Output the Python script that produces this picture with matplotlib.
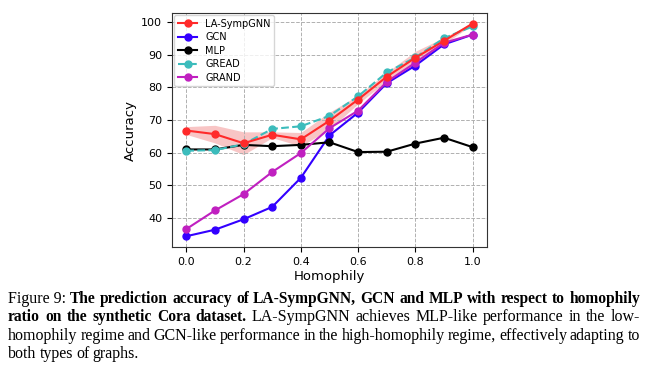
import matplotlib
matplotlib.use('Agg')
import matplotlib.pyplot as plt
import numpy as np

#------------------------------------------------------------------------------
homophily = [0.0, 0.1, 0.2, 0.3, 0.4, 0.5, 0.6, 0.7, 0.8, 0.9, 1.0]
la_symp = [66.8, 65.7, 62.9, 65.5, 64.1, 69.8, 76.3, 83.3, 89.1, 94.3, 99.6]
la_symp_std = [1.2, 2.7, 3.5, 0.9, 2.1, 2.6, 1.3, 1.3, 2.0, 1.0, 0.3]
gcn = [34.4, 36.4, 39.6, 43.4, 52.3, 65.3, 72.3, 81.3, 86.7, 93.2, 96.2]
mlp = [61.0, 61.0, 62.4, 62.0, 62.4, 63.2, 60.2, 60.3, 62.8, 64.6, 61.7]
gread = [60.6, 60.8, 62.6, 67.3, 68.1, 71.3, 77.3, 84.6, 89.2, 95.1, 98.7]
grand = [36.6, 42.3, 47.3, 54.1, 59.9, 67.5, 72.9, 81.7, 87.6, 93.7, 96.2]
#------------------------------------------------------------------------------

fig = plt.figure(figsize=(6.48, 3.69), dpi=100)
ax = fig.add_axes([0.2654, 0.3306, 0.4861, 0.634])

ax.fill_between(homophily, np.array(la_symp) - np.array(la_symp_std),
                np.array(la_symp) + np.array(la_symp_std),
                color='#f08080', alpha=0.45, linewidth=0)
ax.plot(homophily, la_symp, color='#ff2a2a', marker='o', markersize=5,
        linewidth=1.5, label='LA-SympGNN', zorder=5)
ax.plot(homophily, gcn, color='#3300ff', marker='o', markersize=5,
        linewidth=1.5, label='GCN')
ax.plot(homophily, mlp, color='black', marker='o', markersize=5,
        linewidth=1.5, label='MLP')
ax.plot(homophily, gread, color='#3cbcbc', marker='o', markersize=5,
        linewidth=1.5, linestyle='--', label='GREAD')
ax.plot(homophily, grand, color='#c020c0', marker='o', markersize=5,
        linewidth=1.5, label='GRAND')

ax.set_ylim(31.1, 102.8)
ax.set_xticks(np.arange(0, 1.01, 0.2))
ax.set_yticks(np.arange(40, 101, 10))
ax.tick_params(labelsize=8)
ax.set_xlabel('Homophily', fontsize=9.5, labelpad=2)
ax.set_ylabel('Accuracy', fontsize=9.5, labelpad=3)
ax.grid(True, linestyle='--', color='#b0b0b0', linewidth=0.7)
for s in ax.spines.values():
    s.set_color('#333333')
ax.legend(loc='upper left', fontsize=7, framealpha=0.8, handlelength=2.0,
          borderpad=0.4, labelspacing=0.35, borderaxespad=0.2)

#--------------caption (justified, Times-like)---------------------------------
lines = [
    ([('Figure 9:', False), ('The', True), ('prediction', True), ('accuracy', True),
      ('of', True), ('LA-SympGNN,', True), ('GCN', True), ('and', True), ('MLP', True),
      ('with', True), ('respect', True), ('to', True), ('homophily', True)], True),
    ([('ratio', True), ('on', True), ('the', True), ('synthetic', True), ('Cora', True),
      ('dataset.', True), ('LA-SympGNN', False), ('achieves', False),
      ('MLP-like', False), ('performance', False), ('in', False), ('the', False),
      ('low-', False)], True),
    ([('homophily', False), ('regime', False), ('and', False), ('GCN-like', False),
      ('performance', False), ('in', False), ('the', False), ('high-homophily', False),
      ('regime,', False), ('effectively', False), ('adapting', False), ('to', False)], True),
    ([('both', False), ('types', False), ('of', False), ('graphs.', False)], False),
]
x_left, x_right = 8, 640
y_lines = [299, 317, 336, 354]
fs_bold, fs_reg = 11.2, 11.5
renderer = fig.canvas.get_renderer()
W, H = fig.bbox.width, fig.bbox.height
for (words, justify), yl in zip(lines, y_lines):
    texts = []
    widths = []
    for w, bold in words:
        t = fig.text(0, 1 - yl / H, w, fontsize=fs_bold if bold else fs_reg,
                     family='Liberation Serif',
                     weight='bold' if bold else 'normal', va='center', ha='left')
        texts.append(t)
        widths.append(t.get_window_extent(renderer).width)
    if justify:
        gap = (x_right - x_left - sum(widths)) / (len(words) - 1)
    else:
        gap = 3.2
    x = x_left
    for t, wd in zip(texts, widths):
        t.set_x(x / W)
        x += wd + gap

plt.savefig('out.png', dpi=100)
